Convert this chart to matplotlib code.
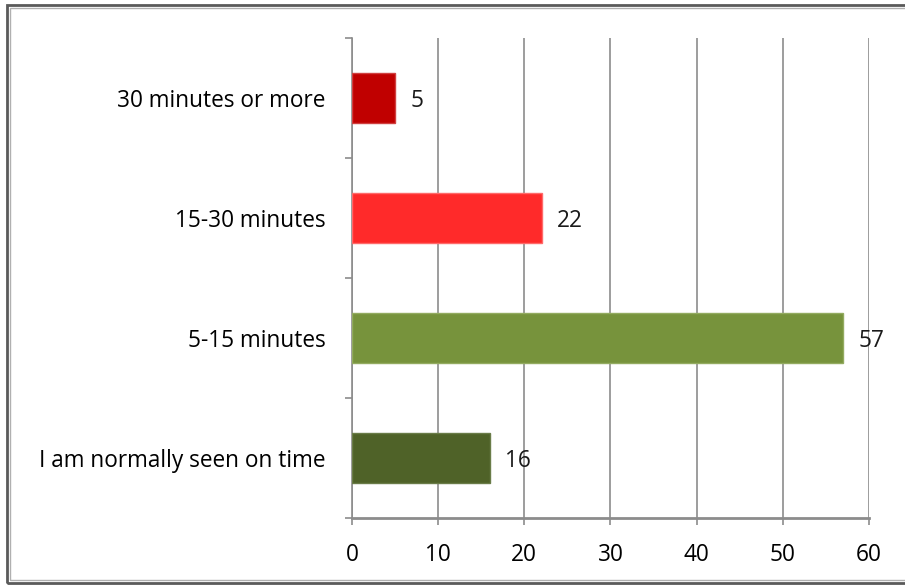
import matplotlib.pyplot as plt
from matplotlib.patches import Rectangle

# Wait time responses
categories = ['I am normally seen on time', '5-15 minutes', '15-30 minutes', '30 minutes or more']
values = [16, 57, 22, 5]
colors = ['#4F6228', '#77933C', '#FF2A2A', '#C00000']
edges = ['#6a7c48', '#93ab60', '#ff6a6a', '#d04040']
x_ticks = [0, 10, 20, 30, 40, 50, 60]

plt.rcParams['font.family'] = ['Open Sans', 'DejaVu Sans']
grid_col = '#8C8C8C'
fs = 16.3

fig = plt.figure(figsize=(9.05, 5.87), dpi=100)
ax = fig.add_axes([0.389, 0.1175, 0.571, 0.8175])

ypos = list(range(len(categories)))
ax.barh(ypos, values, height=0.42, color=colors, edgecolor=edges, linewidth=1, zorder=3)

for y, v in zip(ypos, values):
    ax.annotate(str(v), xy=(v, y), xytext=(11, -2), textcoords='offset points',
                va='center', ha='left', fontsize=fs, color='#1a1a1a', zorder=4)

ax.set_xlim(0, 60)
ax.set_ylim(-0.5, len(categories) - 0.5)
ax.set_xticks(x_ticks)
ax.set_xticklabels([str(t) for t in x_ticks], fontsize=fs)
ax.tick_params(axis='x', length=5, width=1.2, color=grid_col, pad=13)

# category labels, ticks sit between categories
ax.set_yticks(ypos)
ax.set_yticklabels(categories, fontsize=fs)
ax.tick_params(axis='y', length=0, pad=19)
ax.set_yticks([y - 0.5 for y in range(len(categories) + 1)], minor=True)
ax.tick_params(axis='y', which='minor', length=5, width=1.2, color=grid_col)

ax.grid(axis='x', color=grid_col, linewidth=1.2, zorder=0)
for side in ['top', 'right']:
    ax.spines[side].set_visible(False)
for side in ['left', 'bottom']:
    ax.spines[side].set_color(grid_col)
    ax.spines[side].set_linewidth(1.2)
ax.spines['bottom'].set_linewidth(2)

# frame around the chart area
fig.patches.append(Rectangle((7 / 905, 4 / 587), 1.0, 578 / 587, transform=fig.transFigure,
                             fill=False, edgecolor='#5a5a5a', linewidth=2))
fig.patches.append(Rectangle((10 / 905, 7 / 587), 1.0, 572 / 587, transform=fig.transFigure,
                             fill=False, edgecolor='#b0b0b0', linewidth=1))

fig.savefig('out.png', dpi=100)
